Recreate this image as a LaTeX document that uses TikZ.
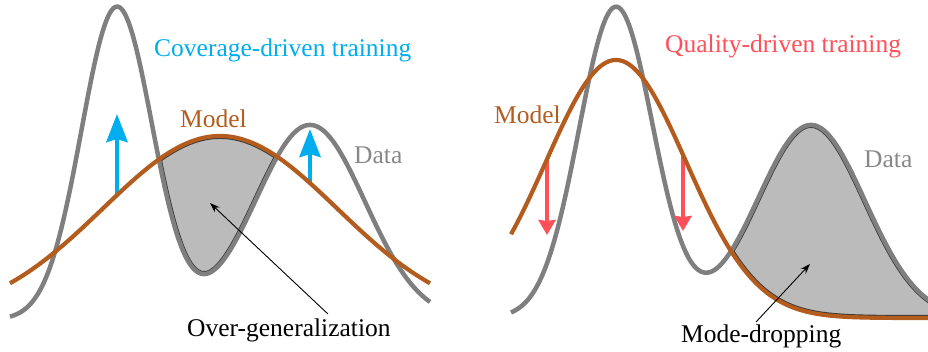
\documentclass[tikz,border=0pt]{standalone}
\usepackage{fontspec}
\setmainfont{Liberation Serif}
\usetikzlibrary{arrows.meta}
\definecolor{cblue}{HTML}{00ADEF}
\definecolor{cred}{HTML}{FF4F58}
\definecolor{cbrown}{HTML}{B35C1E}
\definecolor{cgray}{HTML}{7F7F7F}
\definecolor{cgraytext}{HTML}{888888}
\definecolor{cfill}{HTML}{BBBBBB}
\definecolor{cedge}{HTML}{3A3A3A}
\begin{document}
\begin{tikzpicture}[x=1pt,y=-1pt,
  declare function={
    gs(\t,\m,\s)=exp(max(-9,-0.5*((\t-\m)/\s)*((\t-\m)/\s)));
    dl(\t)=320-313*gs(\t,117,35.5)-195*gs(\t,310,55);
    ml(\t)=320-184*gs(\t,220,117);
    dr(\t)=318-311*gs(\t,616,37)-193*gs(\t,811,54);
    mr(\t)=318-258*gs(\t,616,70);
  },
  datacurve/.style={draw=cgray, line width=4.5pt, line join=round},
  modelcurve/.style={draw=cbrown, line width=4.2pt, line join=round},
  edgecurve/.style={draw=cedge, line width=6pt},
  lbl/.style={anchor=base west, inner sep=0pt, font=\fontsize{25.5}{30}\selectfont},
  bluearrow/.style={draw=cblue, line width=4.5pt, -{Stealth[length=28pt,width=21pt,inset=3pt,fill=cblue]}},
  redarrow/.style={draw=cred, line width=3.5pt, -{Stealth[length=15pt,width=17pt,inset=1pt,fill=cred]}},
  thinarrow/.style={draw=black, line width=0.9pt, -{Stealth[length=10pt,width=7pt]}}
]
\useasboundingbox (0,0) rectangle (928,351);
\clip (0,0) rectangle (928,351);

% ---------- left panel: shaded over-generalization region ----------
\begin{scope}
  \clip plot[domain=140:292,samples=80] (\x,{ml(\x)}) -- (292,351) -- (140,351) -- cycle;
  \clip plot[domain=140:292,samples=80] (\x,{dl(\x)}) -- (292,0) -- (140,0) -- cycle;
  \fill[cfill] (140,0) rectangle (292,351);
  \draw[edgecurve] plot[domain=140:292,samples=80] (\x,{dl(\x)});
  \draw[edgecurve] plot[domain=140:292,samples=80] (\x,{ml(\x)});
\end{scope}

% ---------- right panel: shaded mode-dropping region ----------
\begin{scope}
  \clip plot[domain=712:940,samples=90] (\x,{dr(\x)}) -- (940,351) -- (712,351) -- cycle;
  \clip plot[domain=712:940,samples=90] (\x,{mr(\x)}) -- (940,0) -- (712,0) -- cycle;
  \fill[cfill] (712,0) rectangle (940,351);
  \draw[edgecurve] plot[domain=712:940,samples=90] (\x,{dr(\x)});
  \draw[edgecurve] plot[domain=712:940,samples=90] (\x,{mr(\x)});
\end{scope}

% ---------- data curves ----------
\draw[datacurve] plot[domain=10:430,samples=200] (\x,{dl(\x)});
\draw[datacurve] plot[domain=511:940,samples=200] (\x,{dr(\x)});

% ---------- training arrows ----------
\coordinate (bA0) at (117,195);
\coordinate (bA1) at (117,114);
\coordinate (bB0) at (310,183);
\coordinate (bB1) at (310,129);
\draw[bluearrow] (bA0) -- (bA1);
\draw[bluearrow] (bB0) -- (bB1);

\coordinate (rA0) at (547,160);
\coordinate (rA1) at (547,235);
\coordinate (rB0) at (683,156);
\coordinate (rB1) at (683,231);
\draw[redarrow] (rA0) -- (rA1);
\draw[redarrow] (rB0) -- (rB1);

% ---------- model curves ----------
\draw[modelcurve] plot[domain=10:430,samples=150] (\x,{ml(\x)});
\draw[modelcurve] plot[domain=511:940,samples=150] (\x,{mr(\x)});

% ---------- labels ----------
\node[lbl, text=cblue] (tcov) at (154,56) {Coverage-driven training};
\node[lbl, text=cbrown] (tmodelL) at (180,127) {Model};
\node[lbl, text=cgraytext] (tdataL) at (354,163) {Data};
\node[lbl, text=black] (tover) at (187,336) {Over-generalization};

\node[lbl, text=cred] (tqual) at (665,52) {Quality-driven training};
\node[lbl, text=cbrown] (tmodelR) at (494,123) {Model};
\node[lbl, text=cgraytext] (tdataR) at (864,167) {Data};
\node[lbl, text=black] (tmode) at (681,342) {Mode-dropping};

% ---------- pointer arrows ----------
\coordinate (pA0) at (328,314);
\coordinate (pA1) at (210,203);
\coordinate (pB0) at (756,322);
\coordinate (pB1) at (810,264);
\draw[thinarrow] (pA0) -- (pA1);
\draw[thinarrow] (pB0) -- (pB1);
\end{tikzpicture}
\end{document}
